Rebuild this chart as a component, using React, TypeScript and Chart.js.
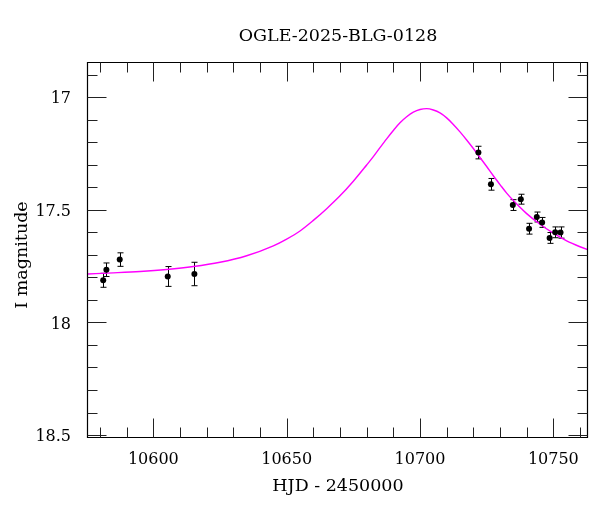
import React, { useEffect, useRef } from 'react';
import { Chart, registerables } from 'chart.js';

Chart.register(...registerables);

// ---- text ----
const TITLE = 'OGLE-2025-BLG-0128';
const X_LABEL = 'HJD - 2450000';
const Y_LABEL = 'I magnitude';

// ---- axes ----
const X_MIN = 10575.5;
const X_MAX = 10763;
const Y_MIN = 16.844;
const Y_MAX = 18.513;
const X_MAJOR = [10600, 10650, 10700, 10750];
const X_MINOR = [10580, 10590, 10610, 10620, 10630, 10640, 10660, 10670, 10680, 10690, 10710, 10720, 10730, 10740, 10760];
const Y_MAJOR = [17, 17.5, 18, 18.5];
const Y_MINOR = [16.9, 17.1, 17.2, 17.3, 17.4, 17.6, 17.7, 17.8, 17.9, 18.1, 18.2, 18.3, 18.4];

// ---- observations ----
const OBS_HJD = [10581.2, 10582.4, 10587.4, 10605.4, 10615.4, 10721.9, 10726.6, 10734.8, 10737.8, 10740.9, 10743.8, 10745.8, 10748.6, 10750.7, 10752.7];
const OBS_MAG = [17.813, 17.766, 17.721, 17.796, 17.785, 17.246, 17.387, 17.479, 17.453, 17.584, 17.532, 17.556, 17.625, 17.600, 17.601];
const OBS_ERR = [0.031, 0.030, 0.030, 0.044, 0.052, 0.028, 0.026, 0.024, 0.022, 0.024, 0.022, 0.022, 0.024, 0.024, 0.025];

// ---- model curve ----
const MODEL_HJD = [10575, 10585, 10595, 10605, 10615, 10625, 10635, 10645, 10650, 10655, 10660, 10665, 10670, 10675, 10680, 10682.5, 10685, 10687.5, 10690, 10692.5, 10695, 10697.5, 10700, 10702.5, 10705, 10707.5, 10710, 10712.5, 10715, 10717.5, 10720, 10722.5, 10725, 10727.5, 10730, 10732.5, 10735, 10740, 10745, 10750, 10755, 10760, 10765];
const MODEL_MAG = [17.785, 17.780, 17.774, 17.765, 17.752, 17.733, 17.704, 17.660, 17.630, 17.594, 17.547, 17.495, 17.438, 17.373, 17.301, 17.264, 17.224, 17.185, 17.148, 17.114, 17.087, 17.067, 17.055, 17.051, 17.057, 17.070, 17.092, 17.121, 17.154, 17.190, 17.228, 17.268, 17.308, 17.349, 17.388, 17.426, 17.459, 17.517, 17.564, 17.604, 17.638, 17.664, 17.686];

const FONT = "'DejaVu Serif', serif";

const framePlugin = {
  id: 'frameTicks',
  afterDatasetsDraw(chart: any) {
    const { ctx, chartArea, scales } = chart;
    const { left, right, top, bottom } = chartArea;
    const x = scales.x;
    const y = scales.y;
    ctx.save();
    ctx.strokeStyle = '#000';
    ctx.lineWidth = 1.2;
    const L = Math.round(left) - 0.5;
    const R = Math.round(right) - 0.5;
    const T = Math.round(top) + 0.5;
    const B = Math.round(bottom) - 0.5;
    ctx.beginPath();
    ctx.rect(L, T, R - L, B - T);
    ctx.stroke();
    ctx.lineWidth = 1;
    ctx.strokeStyle = '#222';
    const vt = (v: number, len: number) => {
      const px = Math.round(x.getPixelForValue(v)) + 0.5;
      ctx.moveTo(px, B); ctx.lineTo(px, B - len);
      ctx.moveTo(px, T); ctx.lineTo(px, T + len);
    };
    const ht = (v: number, len: number) => {
      const py = Math.round(y.getPixelForValue(v)) + 0.5;
      ctx.moveTo(L, py); ctx.lineTo(L + len, py);
      ctx.moveTo(R, py); ctx.lineTo(R - len, py);
    };
    ctx.beginPath();
    X_MAJOR.forEach(v => vt(v, 19));
    X_MINOR.forEach(v => vt(v, 10));
    Y_MAJOR.forEach(v => ht(v, 19));
    Y_MINOR.forEach(v => ht(v, 10));
    ctx.stroke();
    ctx.restore();
  },
};

const errorBarPlugin = {
  id: 'errorBars',
  beforeDatasetsDraw(chart: any) {
    const { ctx, scales } = chart;
    const x = scales.x;
    const y = scales.y;
    ctx.save();
    ctx.strokeStyle = '#000';
    ctx.lineWidth = 1;
    ctx.beginPath();
    OBS_HJD.forEach((t, i) => {
      const px = Math.round(x.getPixelForValue(t)) + 0.5;
      const y1 = y.getPixelForValue(OBS_MAG[i] - OBS_ERR[i]);
      const y2 = y.getPixelForValue(OBS_MAG[i] + OBS_ERR[i]);
      ctx.moveTo(px, y1); ctx.lineTo(px, y2);
      ctx.moveTo(px - 3, y1); ctx.lineTo(px + 3, y1);
      ctx.moveTo(px - 3, y2); ctx.lineTo(px + 3, y2);
    });
    ctx.stroke();
    ctx.restore();
  },
};

const textPlugin = {
  id: 'titles',
  afterDraw(chart: any) {
    const { ctx, chartArea } = chart;
    const cx = (chartArea.left + chartArea.right) / 2;
    ctx.save();
    ctx.fillStyle = '#000';
    ctx.textAlign = 'center';
    ctx.textBaseline = 'alphabetic';
    ctx.font = `17.5px ${FONT}`;
    ctx.fillText(TITLE, cx, 41);
    ctx.fillText(X_LABEL, cx, 491);
    ctx.translate(27, 255);
    ctx.rotate(-Math.PI / 2);
    ctx.fillText(Y_LABEL, 0, 0);
    ctx.restore();
  },
};

export default function App() {
  const ref = useRef<HTMLCanvasElement | null>(null);
  useEffect(() => {
    if (!ref.current) return;
    const chart = new Chart(ref.current, {
      type: 'line',
      data: {
        datasets: [
          {
            label: 'model',
            data: MODEL_HJD.map((t, i) => ({ x: t, y: MODEL_MAG[i] })),
            showLine: true,
            borderColor: '#ff00ff',
            borderWidth: 1.4,
            pointRadius: 0,
            fill: false,
            cubicInterpolationMode: 'monotone',
            clip: 0,
            order: 2,
          } as any,
          {
            label: 'OGLE',
            data: OBS_HJD.map((t, i) => ({ x: t, y: OBS_MAG[i] })),
            showLine: false,
            pointRadius: 3,
            pointBackgroundColor: '#000',
            pointBorderColor: '#000',
            pointBorderWidth: 0,
            order: 1,
          },
        ],
      },
      options: {
        animation: false,
        responsive: true,
        maintainAspectRatio: false,
        layout: { padding: { top: 62, right: 12, left: 0, bottom: 0 } },
        plugins: { legend: { display: false }, tooltip: { enabled: false }, title: { display: false } },
        scales: {
          x: {
            type: 'linear',
            min: X_MIN,
            max: X_MAX,
            grid: { display: false, drawTicks: false },
            border: { display: false },
            afterBuildTicks: (s: any) => { s.ticks = X_MAJOR.map(v => ({ value: v })); },
            afterFit: (s: any) => { s.height = 74; },
            ticks: {
              autoSkip: false,
              maxRotation: 0,
              padding: 12,
              color: '#000',
              font: { family: FONT, size: 16 },
              callback: (v: any) => String(v),
            },
          },
          y: {
            type: 'linear',
            reverse: true,
            min: Y_MIN,
            max: Y_MAX,
            grid: { display: false, drawTicks: false },
            border: { display: false },
            afterBuildTicks: (s: any) => { s.ticks = Y_MAJOR.map(v => ({ value: v })); },
            afterFit: (s: any) => { s.width = 88; },
            ticks: {
              autoSkip: false,
              padding: 17,
              labelOffset: 2,
              color: '#000',
              font: { family: FONT, size: 16 },
              callback: (v: any) => String(v),
            },
          },
        },
      },
      plugins: [errorBarPlugin, framePlugin, textPlugin],
    });
    return () => chart.destroy();
  }, []);
  return (
    <div style={{ position: 'fixed', left: 0, top: 0, width: 600, height: 512, background: '#fff' }}>
      <canvas ref={ref} />
    </div>
  );
}
